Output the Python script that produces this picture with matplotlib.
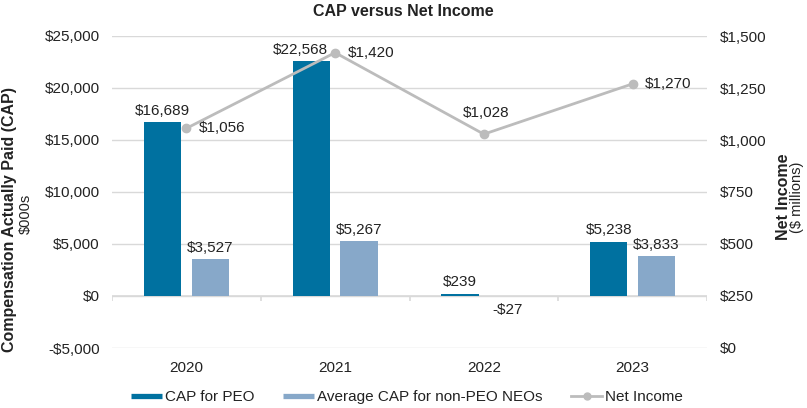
import numpy as np
import matplotlib
matplotlib.use("Agg")
import matplotlib.pyplot as plt
from matplotlib.lines import Line2D

plt.rcParams['font.family'] = ['Liberation Sans', 'DejaVu Sans']

years = ['2020', '2021', '2022', '2023']
cap_peo = [16689, 22568, 239, 5238]
cap_neo = [3527, 5267, -27, 3833]
net_income = [1056, 1420, 1028, 1270]

c_peo = '#0071a0'
c_neo = '#87a8c9'
c_line = '#bcbcbc'
c_grid = '#d9d9d9'

fig = plt.figure(figsize=(8.07, 4.08), dpi=100)
ax = fig.add_axes([112/807, 1-348/408, (707-112)/807, (348-36)/408])
ax2 = ax.twinx()

x = np.arange(len(years))
w = 0.25
off = 0.16

ax.set_ylim(-5000, 25000)
ax.set_xlim(-0.5, 3.5)
ax.set_yticks(np.arange(-5000, 25001, 5000))
ax.set_yticklabels(['-$5,000' if v < 0 else '${:,}'.format(v) for v in range(-5000, 25001, 5000)])
ax.grid(axis='y', color=c_grid, lw=1)
ax.set_axisbelow(True)
for s in ax.spines.values():
    s.set_visible(False)
for s in ax2.spines.values():
    s.set_visible(False)
ax.axhline(0, color=c_grid, lw=1.2, zorder=1)
ax.vlines(np.arange(len(years) + 1) - 0.5, -500, 0, color=c_grid, lw=1.2, zorder=1)

ax.bar(x - off, cap_peo, w, color=c_peo, zorder=2)
ax.bar(x + off, cap_neo, w, color=c_neo, zorder=2)

for i in range(len(years)):
    # the 2021 label sits a little left so the line point stays clear
    dx = -8 if i == 1 else 0
    ax.annotate('${:,}'.format(cap_peo[i]), (x[i] - off, cap_peo[i]), xytext=(dx, 3),
                textcoords='offset points', ha='center', va='bottom', fontsize=11, color='#222222')
    if cap_neo[i] >= 0:
        ax.annotate('${:,}'.format(cap_neo[i]), (x[i] + off, cap_neo[i]), xytext=(0, 3),
                    textcoords='offset points', ha='center', va='bottom', fontsize=11, color='#222222')
    else:
        ax.annotate('-${:,}'.format(-cap_neo[i]), (x[i] + off, 0), xytext=(0, -5),
                    textcoords='offset points', ha='center', va='top', fontsize=11, color='#222222')

ax.set_xticks(x)
ax.set_xticklabels(years)
ax.tick_params(axis='x', length=0, pad=9, labelsize=11, labelcolor='#222222')
ax.tick_params(axis='y', length=0, pad=9, labelsize=11, labelcolor='#222222')

ax2.set_ylim(0, 1500)
ax2.set_yticks(np.arange(0, 1501, 250))
ax2.set_yticklabels(['${:,}'.format(v) for v in range(0, 1501, 250)])
ax2.tick_params(axis='y', length=0, pad=9, labelsize=11, labelcolor='#222222')
ax2.plot(x, net_income, color=c_line, lw=2, marker='o', ms=6, zorder=3)

for i in range(len(years)):
    if i == 2:
        ax2.annotate('${:,}'.format(net_income[i]), (x[i], net_income[i]), xytext=(2, 10),
                     textcoords='offset points', ha='center', va='bottom', fontsize=11, color='#222222')
    else:
        ax2.annotate('${:,}'.format(net_income[i]), (x[i], net_income[i]), xytext=(9, 0),
                     textcoords='offset points', ha='left', va='center', fontsize=11, color='#222222')

fig.text(0.5, 1-12/408, 'CAP versus Net Income', ha='center', va='center',
         fontsize=11.5, fontweight='bold', color='#222222')
fig.text(10/807, 1-219/408, 'Compensation Actually Paid (CAP)', rotation=90, ha='center',
         va='center', fontsize=11.5, fontweight='bold', color='#222222')
fig.text(26/807, 1-214/408, '$000s', rotation=90, ha='center', va='center',
         fontsize=10.5, color='#222222')
fig.text(783/807, 1-197/408, 'Net Income', rotation=90, ha='center', va='center',
         fontsize=11.5, fontweight='bold', color='#222222')
fig.text(797/807, 1-197/408, '($ millions)', rotation=90, ha='center', va='center',
         fontsize=10.5, color='#222222')

handles = [Line2D([], [], color=c_peo, lw=3.8, solid_capstyle='butt'),
           Line2D([], [], color=c_neo, lw=3.8, solid_capstyle='butt'),
           Line2D([], [], color=c_line, lw=2, marker='o', ms=5)]
fig.legend(handles, ['CAP for PEO', 'Average CAP for non-PEO NEOs', 'Net Income'],
           loc='center', bbox_to_anchor=(407/807, 1-397/408), ncol=3, frameon=False,
           fontsize=11, handlelength=2.0, handletextpad=0.2, columnspacing=1.9,
           labelcolor='#222222')

fig.savefig('out.png', dpi=100)
